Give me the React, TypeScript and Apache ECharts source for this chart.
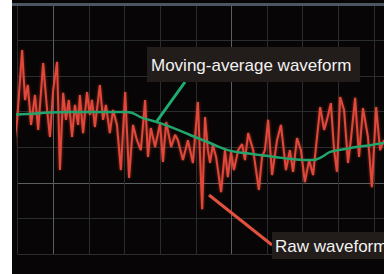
import React, { useEffect, useRef } from "react";
import * as echarts from "echarts";

// time axis: 10 units per division; amplitude: 10 units per division
const xTicks = [0, 10, 20, 30, 40, 50, 60, 70, 80, 90, 100];
const xEnd = 102.8;
const yTicks = [0, 10, 20, 30, 40, 50, 60, 70];

const rawTime = [
  -1.5, -1.0, -0.1, 1.3, 2.1, 2.9, 3.8, 4.9, 5.8, 7.2, 8.3, 9.1, 10.0, 11.1, 11.9, 12.8,
  13.6, 14.4, 15.3, 16.1, 17.0, 17.5, 18.4, 19.5, 20.3, 20.9, 21.7, 23.1, 24.0, 24.8, 25.9,
  26.8, 27.9, 29.0, 30.2, 31.3, 32.4, 33.5, 34.6, 35.8, 36.6, 37.4, 38.6, 40.0, 40.8, 41.7,
  43.1, 44.2, 45.0, 46.4, 47.8, 49.2, 50.6, 51.8, 52.6, 53.4, 54.0, 54.8, 55.7, 57.1, 58.2,
  59.0, 59.9, 60.7, 61.9, 63.0, 63.8, 64.7, 66.1, 67.7, 68.6, 69.4, 70.3, 71.4, 72.8, 73.9,
  75.3, 76.4, 77.3, 78.4, 79.5, 80.6, 81.8, 82.9, 84.9, 86.0, 86.8, 87.9, 88.8, 89.6, 90.5,
  91.6, 92.7, 93.5, 94.7, 95.8, 96.9, 98.3, 99.4, 100.6, 101.7, 102.8,
];
const rawValue = [
  23.1, 30.1, 37.7, 57.3, 43.3, 47.5, 36.3, 44.7, 34.9, 53.7, 40.5, 32.9, 46.1, 54.0, 23.6, 45.3,
  37.7, 43.3, 32.9, 41.9, 36.3, 44.7, 34.0, 45.5, 39.1, 43.3, 35.7, 47.5, 37.7, 41.9, 34.0,
  40.5, 36.3, 23.6, 45.5, 21.4, 36.3, 32.0, 29.2, 43.3, 27.3, 35.4, 30.1, 36.8, 25.9, 37.1,
  30.1, 33.5, 32.0, 26.4, 32.0, 25.6, 42.7, 12.6, 38.5, 29.2, 25.6, 30.6, 27.3, 17.4, 29.2,
  21.6, 28.7, 23.6, 29.2, 30.9, 26.4, 34.0, 29.2, 18.0, 27.3, 29.2, 37.7, 22.2, 32.0, 36.3,
  23.6, 29.2, 23.1, 32.6, 29.2, 20.2, 26.4, 22.2, 41.3, 34.9, 37.7, 42.4, 29.2, 23.1, 44.1,
  40.5, 25.6, 32.0, 43.9, 27.3, 41.0, 32.9, 18.8, 41.3, 29.2, 32.0,
];

const avgTime = [-1.5, 6.3, 14.7, 23.1, 30.7, 35.2, 40.0, 45.0, 49.8, 54.0, 59.0, 63.8, 68.0, 72.2, 77.0, 82.6, 85.4, 87.7, 91.9, 95.0, 98.9, 102.8];
const avgValue = [39.1, 39.6, 39.9, 39.9, 39.9, 38.2, 36.8, 34.9, 32.9, 31.2, 29.2, 28.4, 27.8, 27.3, 26.7, 26.4, 27.3, 28.7, 29.5, 30.1, 30.6, 31.2];

const labelAvg = "Moving-average waveform";
const labelRaw = "Raw waveform";

const MINOR = "#292d2e";
const MAJOR = "#5b5f62";

export default function App() {
  const ref = useRef<HTMLDivElement>(null);
  useEffect(() => {
    if (!ref.current) return;
    const chart = echarts.init(ref.current, undefined, { renderer: "svg" });
    const font = "'Liberation Sans', Arial, sans-serif";
    chart.setOption({
      animation: false,
      grid: { left: 17.5, right: 0, top: 5, bottom: 20 },
      xAxis: {
        type: "value",
        min: xTicks[0],
        max: xEnd,
        interval: 10,
        axisLine: { show: false },
        axisTick: { show: false },
        axisLabel: { show: false },
        splitLine: {
          show: true,
          showMaxLine: false,
          lineStyle: { color: [MINOR, MAJOR, MINOR, MINOR, MINOR], width: 1 },
        },
      },
      yAxis: {
        type: "value",
        min: yTicks[0],
        max: yTicks[yTicks.length - 1],
        interval: 10,
        axisLine: { show: false },
        axisTick: { show: false },
        axisLabel: { show: false },
        splitLine: { show: true, lineStyle: { color: [MINOR, MINOR, MAJOR, MINOR, MINOR], width: 1 } },
      },
      series: [
        {
          type: "line",
          data: rawTime.map((t, i) => [t, rawValue[i]]),
          symbol: "none",
          clip: false,
          z: 2,
          lineStyle: { color: "#e2473a", width: 2, shadowColor: "rgba(230,70,50,0.6)", shadowBlur: 3 },
        },
        {
          type: "line",
          data: avgTime.map((t, i) => [t, avgValue[i]]),
          symbol: "none",
          clip: false,
          smooth: true,
          z: 3,
          lineStyle: { color: "#22a46c", width: 2.5 },
        },
      ],
      graphic: [
        { type: "rect", shape: { x: 12, y: 3, width: 372, height: 3 }, style: { fill: "#4c5562" }, z: 1 },
        { type: "line", shape: { x1: 157, y1: 121, x2: 185, y2: 82 }, style: { stroke: "#1fae72", lineWidth: 3 }, z: 5 },
        { type: "line", shape: { x1: 209, y1: 195, x2: 272, y2: 245 }, style: { stroke: "#e2503e", lineWidth: 3 }, z: 5 },
        { type: "rect", shape: { x: 147, y: 47, width: 213, height: 35 }, style: { fill: "#221c1a" }, z: 6 },
        {
          type: "text",
          x: 151,
          y: 65,
          style: { text: labelAvg, fill: "#f2f2f2", font: `17px ${font}`, verticalAlign: "middle", textAlign: "left" },
          z: 7,
        },
        { type: "rect", shape: { x: 272, y: 232, width: 120, height: 27 }, style: { fill: "#221c1a" }, z: 6 },
        {
          type: "text",
          x: 275,
          y: 246,
          style: { text: labelRaw, fill: "#f2f2f2", font: `17px ${font}`, verticalAlign: "middle", textAlign: "left" },
          z: 7,
        },
      ],
    });
    return () => chart.dispose();
  }, []);
  return (
    <div
      ref={ref}
      style={{
        position: "absolute",
        left: 0,
        top: 0,
        width: 384,
        height: 274,
        background: "linear-gradient(to right, #ffffff 12px, #070505 12px)",
      }}
    />
  );
}
